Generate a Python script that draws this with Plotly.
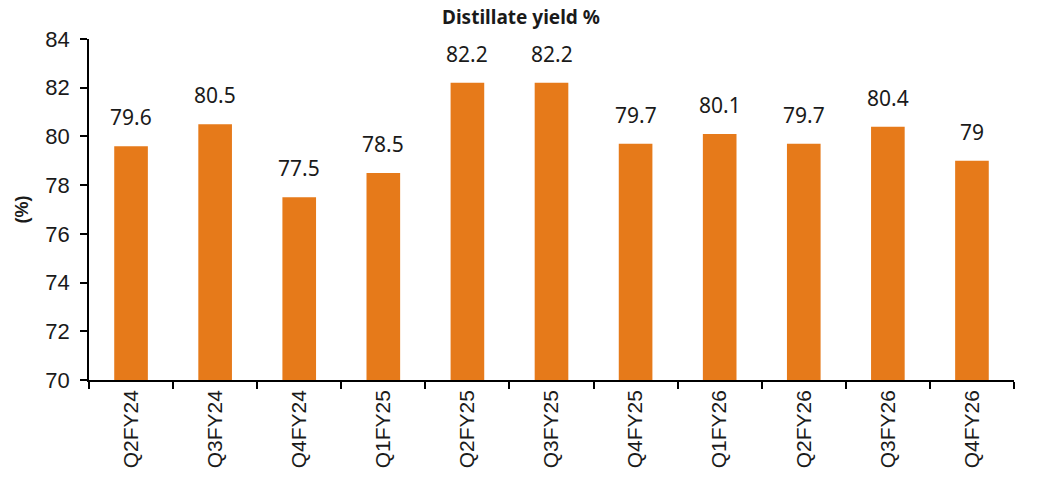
import plotly.graph_objects as go

categories = ["Q2FY24", "Q3FY24", "Q4FY24", "Q1FY25", "Q2FY25", "Q3FY25",
              "Q4FY25", "Q1FY26", "Q2FY26", "Q3FY26", "Q4FY26"]
values = [79.6, 80.5, 77.5, 78.5, 82.2, 82.2, 79.7, 80.1, 79.7, 80.4, 79]
labels = ["79.6", "80.5", "77.5", "78.5", "82.2", "82.2", "79.7", "80.1", "79.7", "80.4", "79"]
y_ticks = [70, 72, 74, 76, 78, 80, 82, 84]

fig = go.Figure(go.Bar(
    x=categories, y=values,
    marker=dict(color="#E67A1A", line=dict(width=0)),
    width=0.4,
))

for c, v, t in zip(categories, values, labels):
    fig.add_annotation(x=c, y=v, text=t, showarrow=False, yanchor="bottom",
                       yshift=13,
                       font=dict(family="Noto Sans, Arial, sans-serif", size=21, color="#1a1a1a"))

fig.update_layout(
    width=1042, height=479,
    margin=dict(l=89, r=28, t=39, b=99),
    paper_bgcolor="white", plot_bgcolor="white",
    showlegend=False,
    title=dict(text="Distillate yield %", x=0.5, xanchor="center",
               yref="container", y=0.963, yanchor="middle",
               font=dict(family="Noto Sans, Arial, sans-serif", size=19, weight="bold",
                         color="#1a1a1a")),
    font=dict(family="Liberation Sans, Arial, sans-serif", size=21, color="#1a1a1a"),
)
fig.update_xaxes(
    type="category", showline=True, linecolor="black", linewidth=1.5,
    ticks="outside", tickson="boundaries", ticklen=7, tickcolor="black", tickwidth=1.5,
    tickangle=-90, tickfont=dict(size=21), showgrid=False,
)
fig.update_yaxes(
    range=[70, 84], tickvals=y_ticks, showline=True, linecolor="black", linewidth=1.5,
    ticks="outside", ticklen=7, tickcolor="black", tickwidth=1.5, showgrid=False,
    zeroline=False, tickfont=dict(size=22), ticklabelstandoff=6,
    title=dict(text="<b>(%)</b>", font=dict(size=18), standoff=12),
)
fig.write_html("out.html")
